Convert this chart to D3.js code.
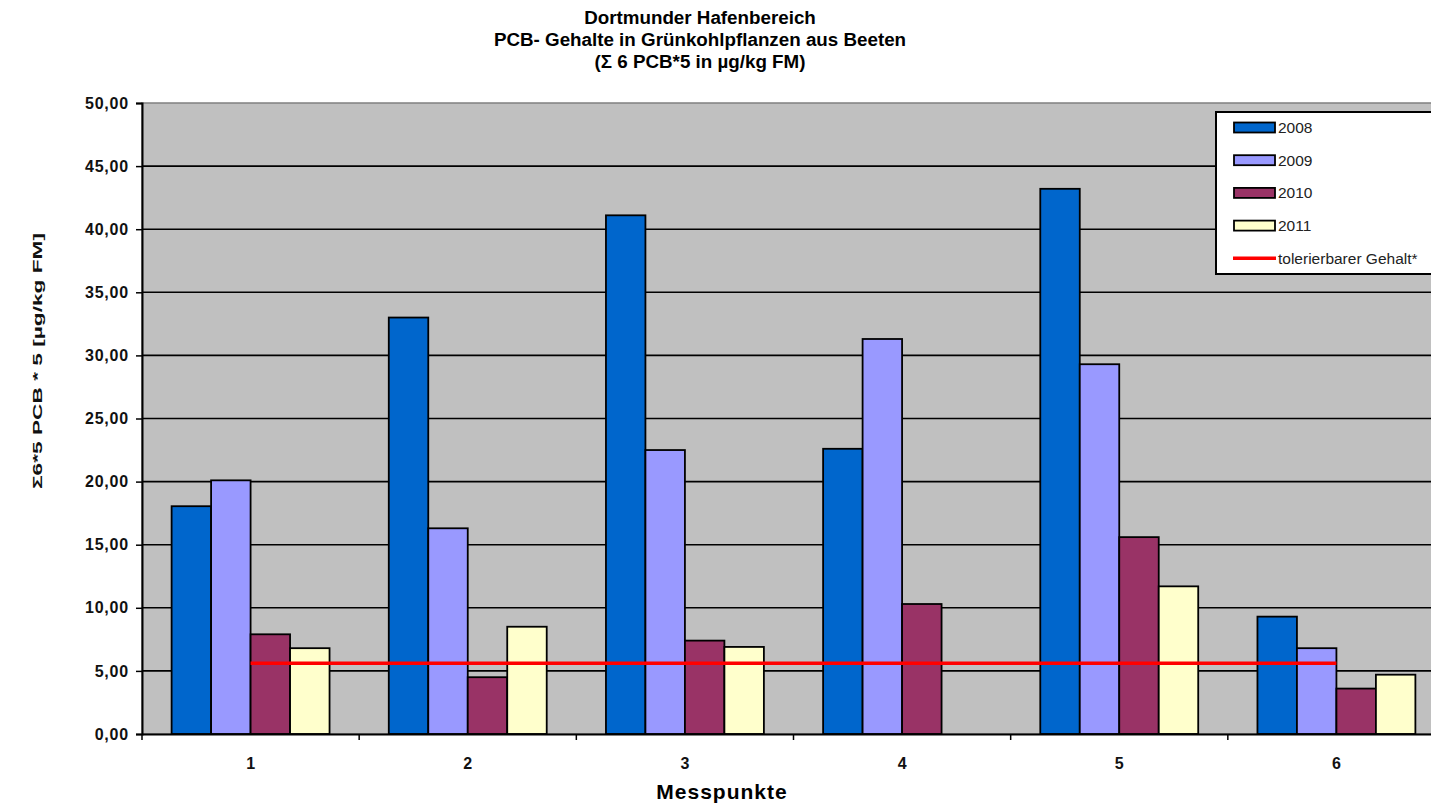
<!DOCTYPE html>
<html>
<head>
<meta charset="utf-8">
<script src="https://cdn.jsdelivr.net/npm/d3@7"></script>
<style>
  html, body { margin: 0; padding: 0; background: #fff; }
  svg { display: block; }
  text { font-family: "Liberation Sans", Arial, sans-serif; }
</style>
</head>
<body>
<svg id="chart" width="1431" height="809"></svg>
<script>
// Messpunkte (sampling points)
const categories = ["1", "2", "3", "4", "5", "6"];
// Series: PCB content per year (µg/kg FM)
const years = ["2008", "2009", "2010", "2011"];
const values2008 = [18.05, 33.0, 41.1, 22.6, 43.2, 9.3];
const values2009 = [20.1, 16.3, 22.5, 31.3, 29.3, 6.8];
const values2010 = [7.9, 4.5, 7.4, 10.3, 15.6, 3.6];
const values2011 = [6.8, 8.5, 6.9, null, 11.7, 4.7];
// tolerable content
const tolerable = 5.6;
const yTicks = [0, 5, 10, 15, 20, 25, 30, 35, 40, 45, 50];
const titleLines = [
  "Dortmunder Hafenbereich",
  "PCB- Gehalte in Grünkohlpflanzen aus Beeten",
  "(\u03A3 6 PCB*5 in µg/kg FM)"
];
const colors = ["#0066CC", "#9999FF", "#993366", "#FFFFCC"];

const seriesValues = [values2008, values2009, values2010, values2011];

const svg = d3.select("#chart");
const plot = { left: 142, right: 1445, top: 103, bottom: 734 };

const x = d3.scaleBand()
  .domain(categories)
  .range([plot.left, plot.right])
  .paddingInner(1.5 / 5.5)
  .paddingOuter(0.75 / 5.5);

const xInner = d3.scaleBand()
  .domain(years)
  .range([0, x.bandwidth()]);

const y = d3.scaleLinear()
  .domain([0, 50])
  .range([plot.bottom, plot.top]);

// plot area background
svg.append("rect")
  .attr("x", plot.left).attr("y", plot.top)
  .attr("width", plot.right - plot.left).attr("height", plot.bottom - plot.top)
  .attr("fill", "#C0C0C0")
  .attr("stroke", "#808080").attr("stroke-width", 1.5);

// horizontal gridlines
svg.append("g")
  .selectAll("line")
  .data(yTicks.filter(d => d > 0 && d < 50))
  .join("line")
  .attr("x1", plot.left).attr("x2", plot.right)
  .attr("y1", d => y(d)).attr("y2", d => y(d))
  .attr("stroke", "#000").attr("stroke-width", 1.6);

// bars
const groups = svg.append("g")
  .selectAll("g")
  .data(years)
  .join("g")
  .attr("fill", (d, i) => colors[i]);

groups.each(function(yr, si) {
  d3.select(this).selectAll("rect")
    .data(categories.map((c, ci) => ({ c, v: seriesValues[si][ci] })).filter(d => d.v != null))
    .join("rect")
    .attr("x", d => x(d.c) + xInner(yr))
    .attr("width", xInner.bandwidth())
    .attr("y", d => y(d.v))
    .attr("height", d => y(0) - y(d.v))
    .attr("stroke", "#000")
    .attr("stroke-width", 1.8);
});

// tolerable content line
svg.append("line")
  .attr("x1", x(categories[0]) + x.bandwidth() / 2)
  .attr("x2", x(categories[categories.length - 1]) + x.bandwidth() / 2)
  .attr("y1", y(tolerable)).attr("y2", y(tolerable))
  .attr("stroke", "#FF0000").attr("stroke-width", 3.5);

// y axis
const fmt = d => d3.format(".2f")(d).replace(".", ",");
const yAxis = svg.append("g")
  .attr("transform", `translate(${plot.left},0)`)
  .call(d3.axisLeft(y).tickValues(yTicks).tickFormat(fmt).tickSize(6).tickPadding(7));
yAxis.select(".domain").attr("stroke", "#000").attr("stroke-width", 2);
yAxis.selectAll(".tick line").attr("stroke", "#000").attr("stroke-width", 1.5);
yAxis.selectAll(".tick text")
  .attr("font-family", "Liberation Sans, Arial, sans-serif")
  .attr("font-size", 16).attr("font-weight", "bold")
  .attr("letter-spacing", 0.8)
  .attr("fill", "#111");

// x axis
const xAxis = svg.append("g")
  .attr("transform", `translate(0,${plot.bottom})`)
  .call(d3.axisBottom(x).tickSize(0).tickPadding(24));
xAxis.select(".domain").attr("stroke", "#000").attr("stroke-width", 2);
xAxis.selectAll(".tick text")
  .attr("font-family", "Liberation Sans, Arial, sans-serif")
  .attr("font-size", 16).attr("font-weight", "bold")
  .attr("fill", "#111");

// category boundary ticks
const boundaries = categories.map(c => x(c) - x.step() * x.paddingInner() / 2).concat([plot.right]);
svg.append("g")
  .selectAll("line")
  .data(boundaries)
  .join("line")
  .attr("x1", d => d).attr("x2", d => d)
  .attr("y1", plot.bottom).attr("y2", plot.bottom + 6)
  .attr("stroke", "#000").attr("stroke-width", 1.5);

// titles
svg.append("g")
  .selectAll("text")
  .data(titleLines)
  .join("text")
  .attr("x", 700)
  .attr("y", (d, i) => 24 + i * 22)
  .attr("text-anchor", "middle")
  .attr("font-size", 18.8).attr("font-weight", "bold")
  .attr("fill", "#000")
  .text(d => d);

svg.append("text")
  .attr("x", 722).attr("y", 799)
  .attr("text-anchor", "middle")
  .attr("font-size", 21).attr("font-weight", "bold")
  .attr("letter-spacing", 1)
  .text("Messpunkte");

svg.append("text")
  .attr("transform", "translate(42,361) rotate(-90)")
  .attr("text-anchor", "middle")
  .attr("font-size", 13.5).attr("font-weight", "bold")
  .attr("textLength", 256).attr("lengthAdjust", "spacingAndGlyphs")
  .attr("fill", "#111")
  .text("\u03A36*5 PCB * 5 [µg/kg FM]");

// legend
const legend = svg.append("g");
legend.append("rect")
  .attr("x", 1216).attr("y", 112)
  .attr("width", 260).attr("height", 162)
  .attr("fill", "#fff").attr("stroke", "#000").attr("stroke-width", 2);

const legendItems = years.map((yr, i) => ({ label: yr, color: colors[i], kind: "bar" }))
  .concat([{ label: "tolerierbarer Gehalt*", color: "#FF0000", kind: "line" }]);

const li = legend.selectAll("g.item")
  .data(legendItems)
  .join("g")
  .attr("class", "item")
  .attr("transform", (d, i) => `translate(1233,${127.5 + i * 32.7})`);

li.filter(d => d.kind === "bar").append("rect")
  .attr("x", 1).attr("y", -5)
  .attr("width", 41).attr("height", 10)
  .attr("fill", d => d.color).attr("stroke", "#000").attr("stroke-width", 1.8);

li.filter(d => d.kind === "line").append("line")
  .attr("x1", 0).attr("x2", 43).attr("y1", 0).attr("y2", 0)
  .attr("stroke", d => d.color).attr("stroke-width", 3.5);

li.append("text")
  .attr("x", 45).attr("y", 0)
  .attr("dy", "0.36em")
  .attr("font-size", 15.5)
  .attr("fill", "#222")
  .text(d => d.label);
</script>
</body>
</html>
